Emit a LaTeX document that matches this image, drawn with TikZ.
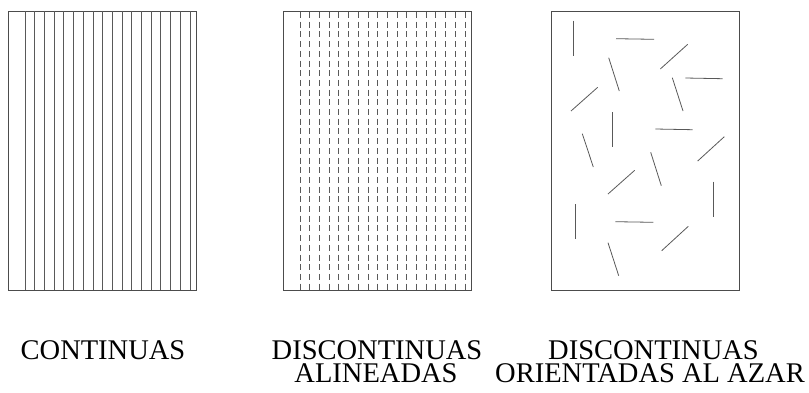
\documentclass[tikz,border=0pt]{standalone}
\usepackage{fontspec}
\setmainfont{Liberation Serif}
\begin{document}
\begin{tikzpicture}[x=1pt,y=-1pt,
  frame/.style={draw=black!70,line width=0.9pt},
  fib/.style={draw=black!65,line width=0.8pt},
  lbl/.style={font=\fontsize{28.5}{30}\selectfont,inner sep=0pt,anchor=base}]
\useasboundingbox (0,0) rectangle (809,392);
% panel 1: continuous fibres
\draw[frame] (8.3,11) rectangle (196.3,290);
\foreach \i in {0,...,17} \draw[fib] ({25+9.7*\i},11) -- ({25+9.7*\i},290);
% panel 2: aligned discontinuous fibres
\draw[frame] (283.3,11) rectangle (471.3,290);
\foreach \i in {0,...,17} \draw[fib,dash pattern=on 6pt off 3.7pt] ({300+9.7*\i},12) -- ({300+9.7*\i},290);
% panel 3: randomly oriented discontinuous fibres
\draw[frame] (551.3,11) rectangle (739.3,290);
\foreach \a/\b/\c/\d in {
  573.3/20.7/573.3/55.7, 616/38.7/654/39.3, 660.3/69/687.7/44.3,
  608.7/57.7/619.3/91, 685.3/78/722.7/78.7, 571/111/597.7/87.3,
  672.3/77.7/683/111, 612.3/112/612.3/147, 655.3/129/692.7/129.7,
  582.3/133.7/593.3/167, 697.7/161/724.3/136.7, 650.7/152.3/661.3/185.7,
  608/194/634.7/170.3, 713.7/181.7/713.7/216.7, 575/204.3/575/239,
  615.3/221.7/653.3/222.3, 661.7/250.7/688.3/226.3, 608/242.7/618.7/275.7}
  \draw[fib] (\a,\b) -- (\c,\d);
% labels
\node[lbl] (l1) at (103,359.3) {CONTINUAS};
\node[lbl] (l2a) at (377,359.3) {DISCONTINUAS};
\node[lbl] (l2b) at (376,382) {ALINEADAS};
\node[lbl] (l3a) at (653.5,359.3) {DISCONTINUAS};
\node[lbl] (l3b) at (650,382) {ORIENTADAS AL AZAR};
\end{tikzpicture}
\end{document}
